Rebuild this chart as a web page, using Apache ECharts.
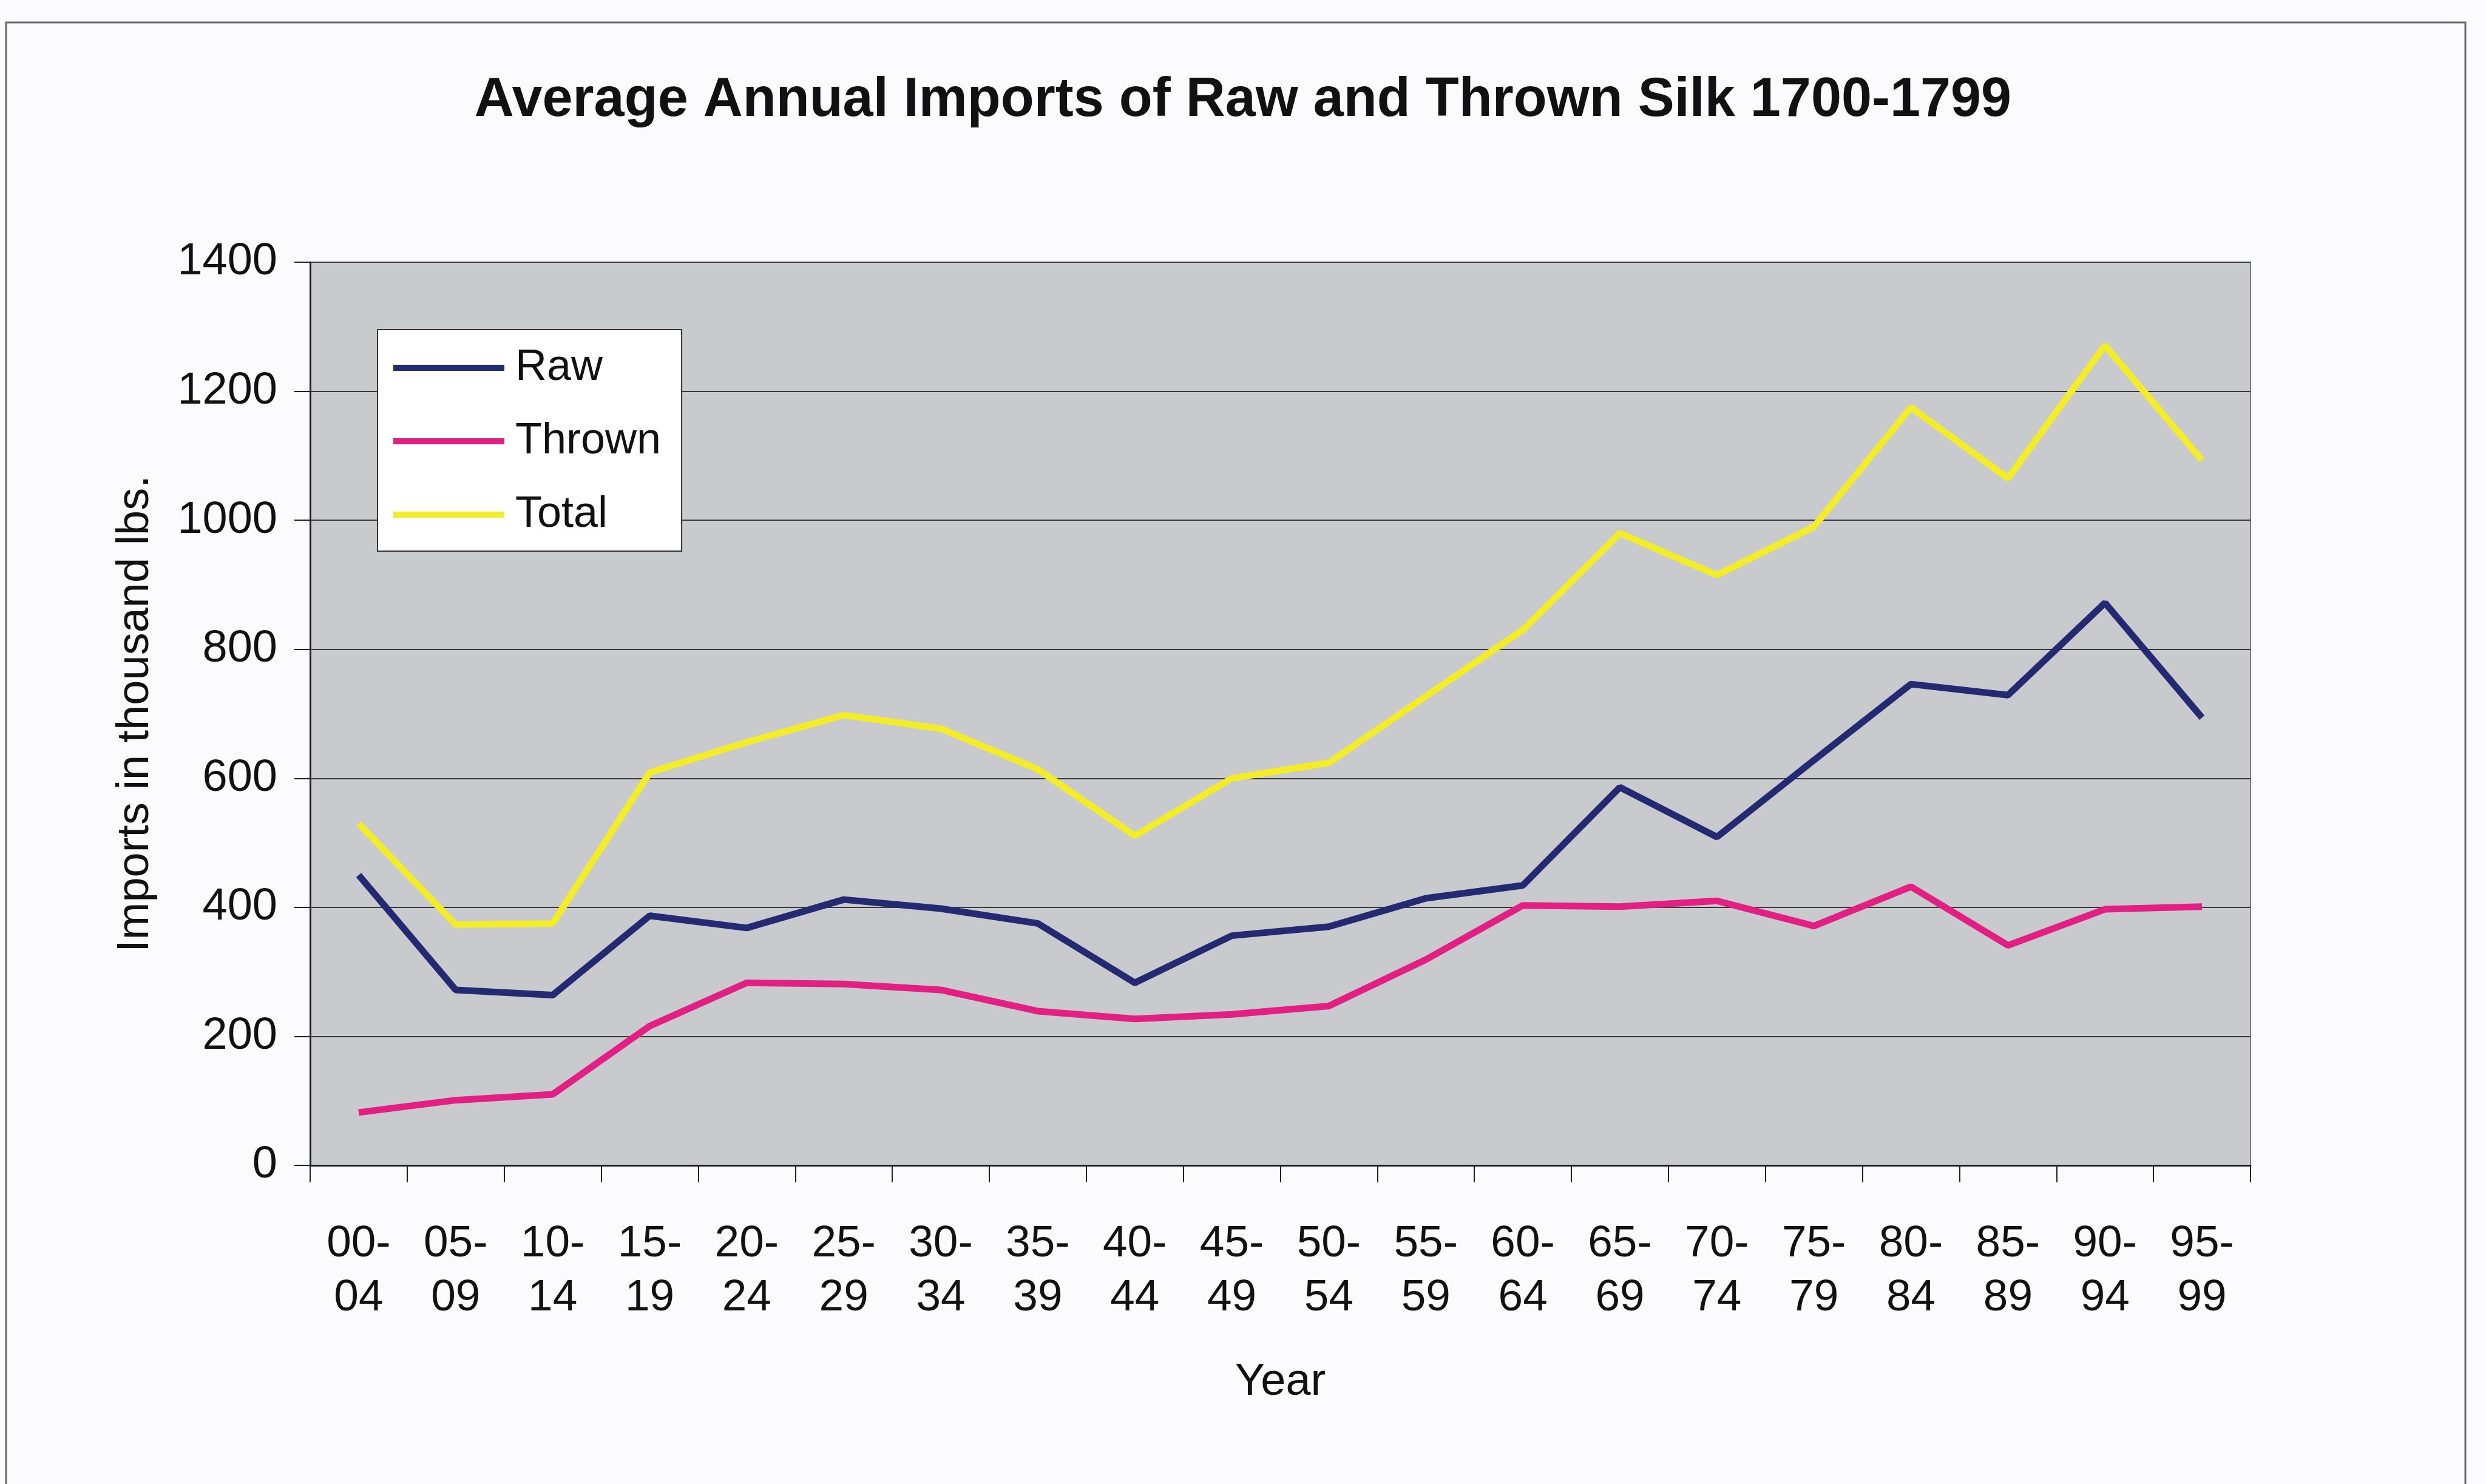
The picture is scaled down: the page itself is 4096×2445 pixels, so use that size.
<!DOCTYPE html>
<html>
<head>
<meta charset="utf-8">
<title>Average Annual Imports of Raw and Thrown Silk 1700-1799</title>
<script src="https://cdn.jsdelivr.net/npm/echarts@6/dist/echarts.min.js"></script>
<style>
  html, body { margin: 0; padding: 0; background: #fbfbfd; }
  #chart { width: 4096px; height: 2445px; }
</style>
</head>
<body>
<div id="chart"></div>
<script>
// five-year periods, 1700-1799
const periods = [
  '00-04', '05-09', '10-14', '15-19', '20-24', '25-29', '30-34', '35-39', '40-44', '45-49',
  '50-54', '55-59', '60-64', '65-69', '70-74', '75-79', '80-84', '85-89', '90-94', '95-99'
]

// thousand lbs
const raw = [
  450, 272, 264, 387, 368, 412, 398, 375, 283, 356,
  370, 414, 434, 586, 509, 628, 746, 729, 872, 694
]
const thrown = [
  82, 101, 110, 216, 283, 281, 272, 239, 227, 234,
  247, 319, 403, 401, 410, 371, 432, 341, 397, 401
]
const total = [
  530, 373, 375, 609, 656, 698, 677, 614, 511, 600,
  624, 727, 830, 980, 915, 990, 1175, 1065, 1271, 1093
]

const yTicks = [0, 200, 400, 600, 800, 1000, 1200, 1400]

const FONT = '"Liberation Sans", Arial, sans-serif'
const INK = '#111'

const chart = echarts.init(document.getElementById('chart'))

const lineSeries = (name, data, color) => ({
  name,
  type: 'line',
  data,
  symbol: 'none',
  lineStyle: { color, width: 11 },
  itemStyle: { color },
  emphasis: { disabled: true },
  z: 3
})

chart.setOption({
  animation: false,
  backgroundColor: '#fbfbfd',
  textStyle: { fontFamily: FONT, color: INK },
  title: {
    text: 'Average Annual Imports of Raw and Thrown Silk 1700-1799',
    left: 'center',
    top: 116,
    textStyle: { fontFamily: FONT, fontSize: 90, fontWeight: 'bold', color: INK }
  },
  graphic: [
    {
      // frame around the chart object
      type: 'rect',
      shape: { x: 10, y: 37, width: 4052, height: 2500 },
      style: { fill: 'none', stroke: '#6a6a6a', lineWidth: 3 },
      silent: true,
      z: -1
    }
  ],
  legend: {
    orient: 'vertical',
    left: 622,
    top: 543,
    icon: 'rect',
    itemWidth: 183,
    itemHeight: 10,
    itemGap: 49,
    padding: [27, 34, 24, 26],
    backgroundColor: '#ffffff',
    borderColor: '#333',
    borderWidth: 2,
    textStyle: { fontFamily: FONT, fontSize: 72, color: INK, padding: [0, 0, 0, 13] },
    data: ['Raw', 'Thrown', 'Total']
  },
  grid: {
    left: 511,
    right: 388,
    top: 432,
    bottom: 525,
    show: true,
    backgroundColor: '#c9cacd',
    borderColor: '#777',
    borderWidth: 2
  },
  xAxis: {
    type: 'category',
    data: periods,
    boundaryGap: true,
    name: 'Year',
    nameLocation: 'middle',
    nameGap: 321,
    nameTextStyle: { fontFamily: FONT, fontSize: 74, color: INK },
    axisLine: { show: true, lineStyle: { color: '#222', width: 3 } },
    axisTick: { show: true, length: 28, lineStyle: { color: '#222', width: 2 } },
    axisLabel: {
      interval: 0,
      margin: 85,
      fontFamily: FONT,
      fontSize: 73,
      lineHeight: 89,
      color: INK,
      formatter: (v) => v.replace('-', '-\n')
    },
    splitLine: { show: false }
  },
  yAxis: {
    type: 'value',
    min: yTicks[0],
    max: yTicks[yTicks.length - 1],
    interval: 200,
    name: 'Imports in thousand lbs.',
    nameLocation: 'middle',
    nameRotate: 90,
    nameGap: 250,
    nameTextStyle: { fontFamily: FONT, fontSize: 74, color: INK },
    axisLine: { show: true, lineStyle: { color: '#222', width: 3 } },
    axisTick: { show: true, length: 26, lineStyle: { color: '#222', width: 2 } },
    axisLabel: {
      margin: 54,
      fontFamily: FONT,
      fontSize: 74,
      color: INK,
      formatter: (v) => String(v)
    },
    splitLine: { show: true, lineStyle: { color: '#3a3a3a', width: 2 } }
  },
  series: [
    lineSeries('Raw', raw, '#232a72'),
    lineSeries('Thrown', thrown, '#e21f83'),
    lineSeries('Total', total, '#f2ec2a')
  ]
})
</script>
</body>
</html>
